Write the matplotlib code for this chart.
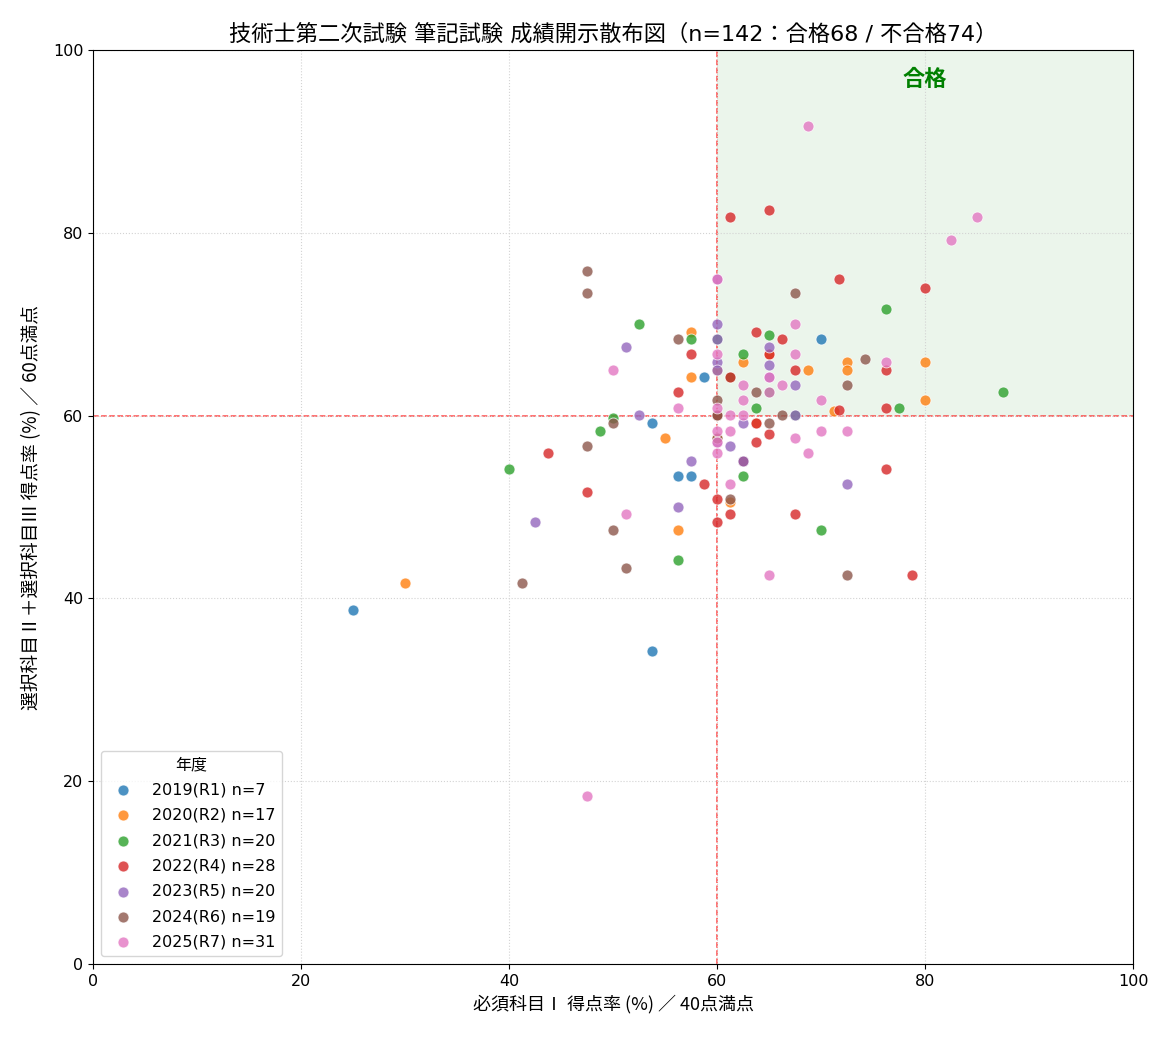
import matplotlib
matplotlib.use("Agg")
import matplotlib.pyplot as plt

plt.rcParams['font.family'] = ['DejaVu Sans', 'Noto Sans CJK JP']

# year labels
years = ["2019(R1)", "2020(R2)", "2021(R3)", "2022(R4)", "2023(R5)", "2024(R6)", "2025(R7)"]

# x: 必須科目I (%), y: 選択科目II+III (%)
x_2019 = [25, 53.75, 53.75, 56.25, 57.5, 58.75, 70]
y_2019 = [38.7, 34.2, 59.2, 53.4, 53.4, 64.2, 68.4]

x_2020 = [30, 55, 56.25, 57.5, 57.5, 61.25, 62.5, 68.75, 71.25, 72.5, 72.5, 80, 80,
          60, 60, 65, 63.75]
y_2020 = [41.7, 57.5, 47.5, 69.1, 64.2, 50.5, 65.9, 65.0, 60.5, 65.9, 65.0, 65.9, 61.7,
          57.5, 65.0, 66.7, 59.2]

x_2021 = [40, 48.75, 50, 52.5, 56.25, 57.5, 62.5, 62.5, 63.75, 65, 70, 76.25, 77.5, 87.5,
          60, 60, 61.25, 62.5, 65, 67.5]
y_2021 = [54.2, 58.3, 59.7, 70.0, 44.2, 68.4, 66.7, 53.4, 60.8, 68.8, 47.5, 71.7, 60.8, 62.6,
          68.4, 60.1, 64.2, 55.0, 62.6, 60.1]

x_2022 = [43.75, 47.5, 56.25, 57.5, 58.75, 60, 60, 61.25, 61.25, 61.25, 63.75, 63.75, 63.75,
          65, 65, 65, 66.25, 67.5, 67.5, 71.7, 71.7, 76.25, 76.25, 76.25, 78.75, 80,
          62.5, 60]
y_2022 = [55.9, 51.6, 62.6, 66.7, 52.5, 50.9, 48.4, 81.7, 64.2, 49.2, 69.1, 59.2, 57.1,
          82.5, 66.7, 58.0, 68.4, 65.0, 49.2, 75.0, 60.6, 65.0, 60.8, 54.2, 42.6, 74.0,
          55.0, 60.1]

x_2023 = [42.5, 51.25, 52.5, 56.25, 57.5, 60, 60, 60, 60, 61.25, 62.5, 62.5, 65, 65,
          67.5, 67.5, 72.5, 60, 60, 65]
y_2023 = [48.4, 67.5, 60.1, 50.0, 55.0, 70.0, 68.4, 65.9, 65.0, 56.7, 59.2, 55.0, 67.5, 65.5,
          63.3, 60.1, 52.5, 57.1, 75.0, 64.2]

x_2024 = [41.25, 47.5, 47.5, 47.5, 50, 50, 51.25, 56.25, 60, 60, 60, 61.25, 63.75, 65,
          66.25, 67.5, 72.5, 74.2, 72.5]
y_2024 = [41.7, 75.8, 73.4, 56.7, 59.2, 47.5, 43.3, 68.4, 61.7, 60.1, 57.6, 50.9, 62.6, 59.2,
          60.1, 73.4, 63.3, 66.2, 42.6]

x_2025 = [47.5, 50, 51.25, 56.25, 60, 60, 60, 60, 60, 61.25, 61.25, 61.25, 62.5, 62.5, 62.5,
          65, 65, 65, 66.25, 67.5, 67.5, 67.5, 68.75, 68.75, 70, 70, 72.5, 76.25, 82.5, 85,
          60]
y_2025 = [18.4, 65.0, 49.2, 60.8, 75.0, 66.7, 60.8, 58.3, 55.9, 60.1, 58.3, 52.5, 63.3, 61.7, 60.1,
          62.6, 64.2, 42.6, 63.3, 70.0, 66.7, 57.5, 91.7, 55.9, 61.7, 58.3, 58.3, 65.9, 79.2, 81.7,
          57.1]

xs = [x_2019, x_2020, x_2021, x_2022, x_2023, x_2024, x_2025]
ys = [y_2019, y_2020, y_2021, y_2022, y_2023, y_2024, y_2025]

fig = plt.figure(figsize=(11.7, 10.4), dpi=100)
ax = fig.add_axes([0.0795, 0.0731, 0.8889, 0.8788])

# pass region
ax.fill_between([60, 100], 60, 100, color='green', alpha=0.08, linewidth=0, zorder=0)
ax.text(80, 96.8, '合格', color='green', fontsize=16, fontweight='bold', ha='center', va='center',
        family='Noto Sans CJK JP')

ax.axvline(60, color='red', ls='--', lw=1.1, alpha=0.7, zorder=1)
ax.axhline(60, color='red', ls='--', lw=1.1, alpha=0.7, zorder=1)

for i, (lab, x, y) in enumerate(zip(years, xs, ys)):
    ax.scatter(x, y, s=62, color='C%d' % i, alpha=0.8, edgecolors='white', linewidths=0.6,
               label='%s n=%d' % (lab, len(x)), zorder=3)

ax.set_xlim(0, 100)
ax.set_ylim(0, 100)
ax.grid(True, ls=':', color='lightgray', lw=0.8, zorder=0)
ax.tick_params(labelsize=11.5)
cjk = ['Noto Sans CJK JP', 'DejaVu Sans']
ax.set_xlabel('必須科目Ⅰ 得点率 (%) ／ 40点満点', fontsize=13, family=cjk)
ax.set_ylabel('選択科目Ⅱ＋選択科目Ⅲ 得点率 (%) ／ 60点満点', fontsize=13.5, family=cjk, labelpad=8)
ax.set_title('技術士第二次試験 筆記試験 成績開示散布図（n=142：合格68 / 不合格74）', fontsize=16,
             pad=7)

leg = ax.legend(title='年度', loc='lower left', fontsize=11.5, title_fontsize=11.5,
                labelspacing=0.65)

plt.savefig('out.png', dpi=100)
plt.close()
